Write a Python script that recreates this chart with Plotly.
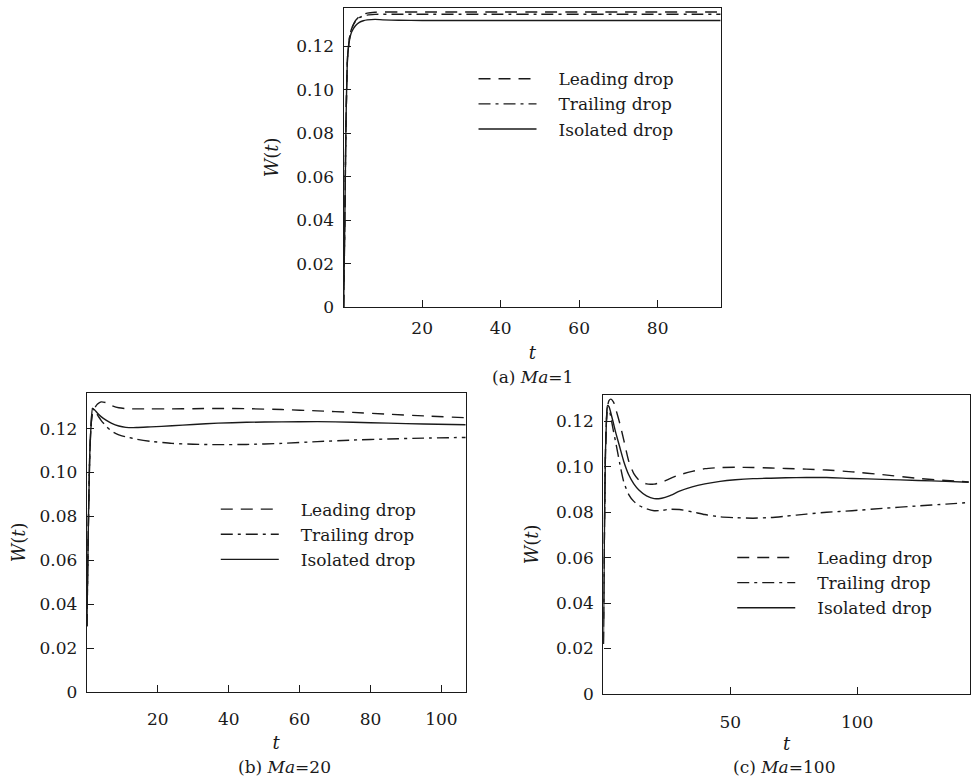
import plotly.graph_objects as go

# ---------------- data ----------------
series_names = ["Leading drop", "Trailing drop", "Isolated drop"]

# (a) Ma = 1
t_a = [0, 0.3, 0.6, 1.0, 1.5, 2, 3, 4, 5, 6, 8, 10, 14, 20, 30, 40, 50, 60, 70, 80, 90, 96]
lead_a = [0, 0.040, 0.085, 0.115, 0.124, 0.128, 0.1318, 0.1338, 0.1348, 0.1353, 0.1357, 0.1358,
          0.1358, 0.1358, 0.1358, 0.1358, 0.1358, 0.1358, 0.1358, 0.1358, 0.1358, 0.1358]
trail_a = [0, 0.040, 0.085, 0.115, 0.124, 0.128, 0.1315, 0.1332, 0.1340, 0.1344, 0.1347, 0.1348,
           0.1348, 0.1348, 0.1348, 0.1348, 0.1348, 0.1348, 0.1348, 0.1348, 0.1348, 0.1348]
iso_a = [0, 0.040, 0.085, 0.115, 0.123, 0.1265, 0.1295, 0.1310, 0.1318, 0.1322, 0.1324, 0.1322,
         0.1320, 0.1319, 0.1319, 0.1319, 0.1319, 0.1319, 0.1319, 0.1319, 0.1319, 0.1319]

# (b) Ma = 20
t_b = [0, 0.4, 0.8, 1.2, 1.6, 2.2, 3, 4, 5.5, 7, 9, 11, 14, 18, 24, 30, 37, 45, 55, 65, 75, 85, 95, 107]
lead_b = [0.03, 0.075, 0.108, 0.122, 0.127, 0.1295, 0.1312, 0.1322, 0.1318, 0.1305, 0.1295, 0.1291,
          0.1290, 0.1290, 0.1290, 0.1291, 0.1292, 0.1291, 0.1287, 0.1281, 0.1274, 0.1266, 0.1258, 0.1250]
trail_b = [0.03, 0.075, 0.108, 0.122, 0.1292, 0.1282, 0.1262, 0.1238, 0.1210, 0.1188, 0.1172, 0.1163,
           0.1152, 0.1142, 0.1133, 0.1129, 0.1127, 0.1128, 0.1133, 0.1141, 0.1148, 0.1153, 0.1157, 0.1160]
iso_b = [0.03, 0.075, 0.108, 0.122, 0.1292, 0.1285, 0.1270, 0.1255, 0.1238, 0.1224, 0.1212, 0.1206,
         0.1205, 0.1208, 0.1213, 0.1219, 0.1225, 0.1229, 0.1231, 0.1232, 0.1229, 0.1225, 0.1221, 0.1218]

# (c) Ma = 100
t_c = [0, 0.4, 0.8, 1.2, 1.6, 2.2, 3, 4, 5, 6.5, 8, 10, 12, 14, 17, 20, 23, 26, 30, 35, 40, 46, 52,
       59, 66, 72, 80, 88, 98, 110, 124, 135, 144]
lead_c = [0.022, 0.07, 0.105, 0.12, 0.126, 0.1292, 0.1298, 0.1285, 0.125, 0.119, 0.112, 0.1025,
          0.097, 0.0942, 0.0925, 0.0924, 0.0932, 0.0947, 0.0965, 0.098, 0.0992, 0.0997, 0.0998,
          0.0997, 0.0995, 0.0993, 0.0990, 0.0986, 0.0978, 0.0966, 0.0949, 0.0940, 0.0934]
trail_c = [0.022, 0.07, 0.105, 0.12, 0.126, 0.1255, 0.1215, 0.1155, 0.110, 0.1012, 0.0935, 0.0878,
           0.0848, 0.0830, 0.0815, 0.0807, 0.0808, 0.0813, 0.0812, 0.0802, 0.0790, 0.0780, 0.0776,
           0.0774, 0.0777, 0.0783, 0.0792, 0.0800, 0.0807, 0.0817, 0.0828, 0.0836, 0.0843]
iso_c = [0.022, 0.07, 0.105, 0.12, 0.127, 0.1265, 0.1235, 0.119, 0.1145, 0.1085, 0.1025, 0.0965,
         0.0925, 0.0898, 0.0872, 0.0860, 0.0862, 0.0872, 0.0893, 0.0912, 0.0925, 0.0936, 0.0943,
         0.0948, 0.0950, 0.0952, 0.0953, 0.0953, 0.0949, 0.0945, 0.0940, 0.0936, 0.0932]

y_tickvals = [0, 0.02, 0.04, 0.06, 0.08, 0.10, 0.12]
y_ticktext = ["0", "0.02", "0.04", "0.06", "0.08", "0.10", "0.12"]
x_ticks_a = [20, 40, 60, 80]
x_ticks_b = [20, 40, 60, 80, 100]
x_ticks_c = [50, 100]
captions = ["(a) <i>Ma</i>=1", "(b) <i>Ma</i>=20", "(c) <i>Ma</i>=100"]

# ---------------- figure ----------------
W, H = 971, 778
FONT = "DejaVu Serif"
INK = "#1a1a1a"
dashes = ["12px,8px", "12px,5px,3px,5px", "solid"]
GAP = "\u2003"  # spacing between legend sample and label

fig = go.Figure()

panels = [
    ("x", "y", "legend", t_a, [lead_a, trail_a, iso_a]),
    ("x2", "y2", "legend2", t_b, [lead_b, trail_b, iso_b]),
    ("x3", "y3", "legend3", t_c, [lead_c, trail_c, iso_c]),
]
for xa, ya, lg, t, ys in panels:
    for name, vals, dash in zip(series_names, ys, dashes):
        fig.add_trace(go.Scatter(
            x=t, y=vals, mode="lines", name=GAP + name, xaxis=xa, yaxis=ya, legend=lg,
            line=dict(color=INK, width=1.4, dash=dash, shape="spline", smoothing=0.6),
            showlegend=True))

def px_x(a, b):
    return [a / W, b / W]

def px_y(top, bottom):
    return [1 - bottom / H, 1 - top / H]

axis_common = dict(showline=True, linecolor=INK, linewidth=1.3, mirror=True,
                   ticks="inside", ticklen=7, tickwidth=1.3, tickcolor=INK,
                   showgrid=False, zeroline=False,
                   tickfont=dict(family=FONT, size=17, color=INK))

title_font = dict(family=FONT, size=18, color=INK)

fig.update_layout(
    width=W, height=H, margin=dict(l=0, r=0, t=0, b=0),
    paper_bgcolor="white", plot_bgcolor="white",
    font=dict(family=FONT, size=17, color=INK),
    xaxis=dict(domain=px_x(344, 722), range=[0, 96.2], tickvals=x_ticks_a, anchor="y",
               ticklabelstandoff=5,
               title=dict(text="<i>t</i>", font=title_font, standoff=9), **axis_common),
    yaxis=dict(domain=px_y(8, 311), range=[0, 0.1377], tickvals=y_tickvals, ticktext=y_ticktext,
               anchor="x", ticklabelstandoff=5,
               title=dict(text="<i>W</i>(<i>t</i>)", font=title_font, standoff=12),
               **axis_common),
    xaxis2=dict(domain=px_x(87, 466), range=[0, 106.8], tickvals=x_ticks_b, anchor="y2",
                ticklabelstandoff=11,
                title=dict(text="<i>t</i>", font=title_font, standoff=8), **axis_common),
    yaxis2=dict(domain=px_y(398, 701), range=[0, 0.1363], tickvals=y_tickvals, ticktext=y_ticktext,
                anchor="x2", ticklabelstandoff=5,
                title=dict(text="<i>W</i>(<i>t</i>)", font=title_font, standoff=9),
                **axis_common),
    xaxis3=dict(domain=px_x(604, 971), range=[0, 144.5], tickvals=x_ticks_c, anchor="y3",
                ticklabelstandoff=12,
                title=dict(text="<i>t</i>", font=title_font, standoff=6), **axis_common),
    yaxis3=dict(domain=px_y(400, 703), range=[0, 0.1317], tickvals=y_tickvals, ticktext=y_ticktext,
                anchor="x3", ticklabelstandoff=5,
                title=dict(text="<i>W</i>(<i>t</i>)", font=title_font, standoff=12),
                **axis_common),
)

legend_common = dict(bgcolor="rgba(0,0,0,0)", borderwidth=0, xanchor="left", yanchor="top",
                     font=dict(family=FONT, size=17, color=INK), itemwidth=58,
                     tracegroupgap=0)
fig.update_layout(
    legend=dict(x=474 / W, y=1 - 62 / H, **legend_common),
    legend2=dict(x=216 / W, y=1 - 498 / H, **legend_common),
    legend3=dict(x=733 / W, y=1 - 547 / H, **legend_common),
)

cap_pos = [(533, 382), (285, 777), (785, 777)]
for txt, (cx, cy) in zip(captions, cap_pos):
    fig.add_annotation(text=txt, xref="paper", yref="paper", x=cx / W, y=1 - cy / H,
                       xanchor="center", yanchor="middle", showarrow=False,
                       font=dict(family=FONT, size=17, color=INK))

fig.write_html("out.html")
